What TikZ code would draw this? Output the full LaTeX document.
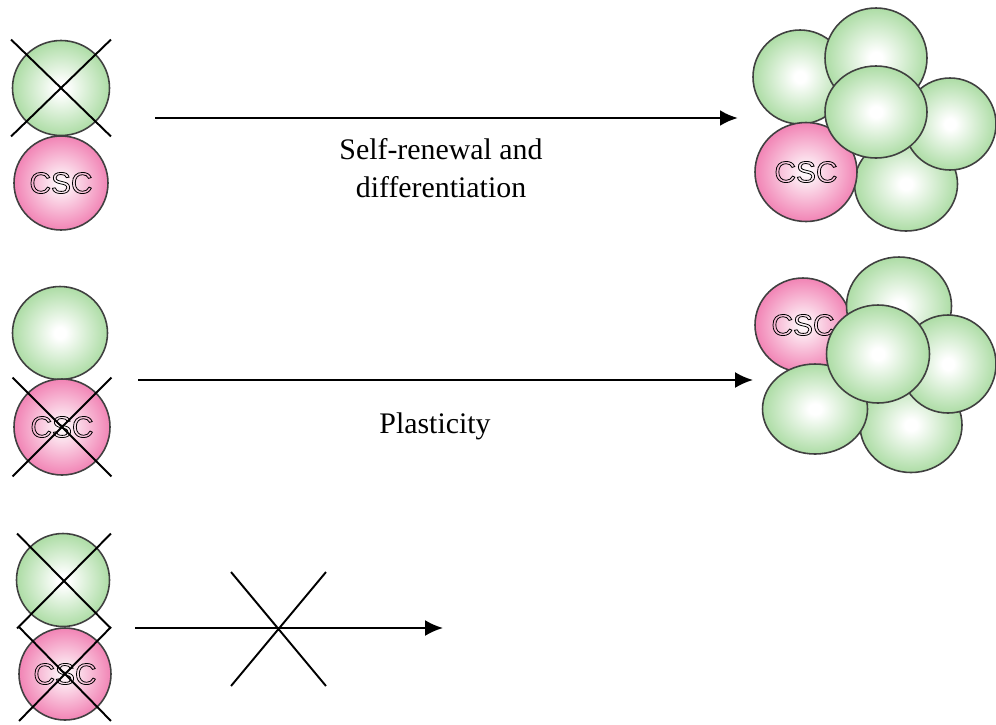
\documentclass[tikz,border=0pt]{standalone}
\usepackage{fontspec}
\setmainfont{Liberation Serif}
\newfontfamily\cellfont{Liberation Sans}
\usetikzlibrary{shapes.geometric, shapes.misc, arrows.meta}

\definecolor{cellgreen}{RGB}{148,210,138}
\definecolor{cellpink}{RGB}{236,84,152}
\pgfdeclareradialshading{greenball}{\pgfpoint{0bp}{0bp}}{color(0bp)=(white); color(3bp)=(white); color(26bp)=(cellgreen!80!white); color(40bp)=(cellgreen); color(50bp)=(cellgreen)}
\pgfdeclareradialshading{pinkball}{\pgfpoint{0bp}{0bp}}{color(0bp)=(white); color(3bp)=(white!92!cellpink); color(26bp)=(cellpink!75!white); color(40bp)=(cellpink); color(50bp)=(cellpink)}

% hollow letters (stroke only)
\newcommand{\hollow}[1]{\special{pdf:literal direct 1 Tr 0.45 w 0 G}#1\special{pdf:literal direct 0 Tr}}

\begin{document}
\begin{tikzpicture}[x=0.02cm, y=-0.02cm,
    cell/.style={ellipse, draw=black!75, line width=0.9pt, inner sep=0pt, shade},
    gcell/.style={cell, shading=greenball},
    pcell/.style={cell, shading=pinkball, font=\cellfont\fontsize{17}{17}\selectfont},
    sz/.style 2 args={minimum width=#1*0.02cm, minimum height=#2*0.02cm},
    kill/.style={cross out, draw=black, line width=1.1pt, inner sep=0pt},
    lbl/.style={font=\fontsize{17}{21.6}\selectfont},
    flow/.style={-{Latex[length=0.36cm, width=0.32cm]}, line width=1.2pt}]
\useasboundingbox (0,0) rectangle (996,724);

% left column: pairs of cells
\node[gcell, sz={97}{95}] (g1) at (61,88) {};
\node[pcell, sz={94}{94}] (p1) at (61,183) {\hollow{CSC}};
\node[kill, sz={98}{95}] (k1) at (61,88) {};

\node[gcell, sz={95}{93}] (g2) at (60,333) {};
\node[pcell, sz={96}{96}] (p2) at (62,427) {\hollow{CSC}};
\node[kill, sz={97}{97}] (k2) at (62,427) {};

\node[gcell, sz={93}{93}] (g3) at (63,580) {};
\node[pcell, sz={92}{92}] (p3) at (65,674) {\hollow{CSC}};
\node[kill, sz={92}{93}] (k3) at (64,581) {};
\node[kill, sz={90}{92}] (k4) at (65,674) {};

% arrows
\coordinate (s1) at (155,118); \coordinate (e1) at (738,118);
\coordinate (s2) at (138,380); \coordinate (e2) at (753,380);
\coordinate (s3) at (135,628); \coordinate (e3) at (443,628);
\draw[flow, line width=1.7pt] (s1) -- (e1);
\draw[flow] (s2) -- (e2);
\draw[flow] (s3) -- (e3);
\node[kill, sz={93}{112}] (stop) at (278.5,629) {};

\node[lbl, align=center] (t1) at (441,168) {Self-renewal and\\differentiation};
\node[lbl, anchor=base] (t2) at (435,433) {Plasticity};

% top cluster
\node[gcell, sz={103}{94}] (c1d) at (906,184) {};
\node[gcell, sz={94}{94}] (c1a) at (800,77) {};
\node[gcell, sz={102}{100}] (c1b) at (876,58) {};
\node[gcell, sz={92}{92}] (c1e) at (950,124) {};
\node[pcell, sz={102}{99}] (c1p) at (806,172) {\hollow{CSC}};
\node[gcell, sz={102}{92}] (c1c) at (876,112) {};

% middle cluster
\node[gcell, sz={102}{95}] (c2e) at (911,425) {};
\node[pcell, sz={96}{94}] (c2p) at (803,325) {\hollow{CSC}};
\node[gcell, sz={105}{98}] (c2b) at (899,306) {};
\node[gcell, sz={96}{98}] (c2d) at (948,364) {};
\node[gcell, sz={105}{90}] (c2a) at (815,409) {};
\node[gcell, sz={103}{98}] (c2c) at (878,354) {};
\end{tikzpicture}
\end{document}
